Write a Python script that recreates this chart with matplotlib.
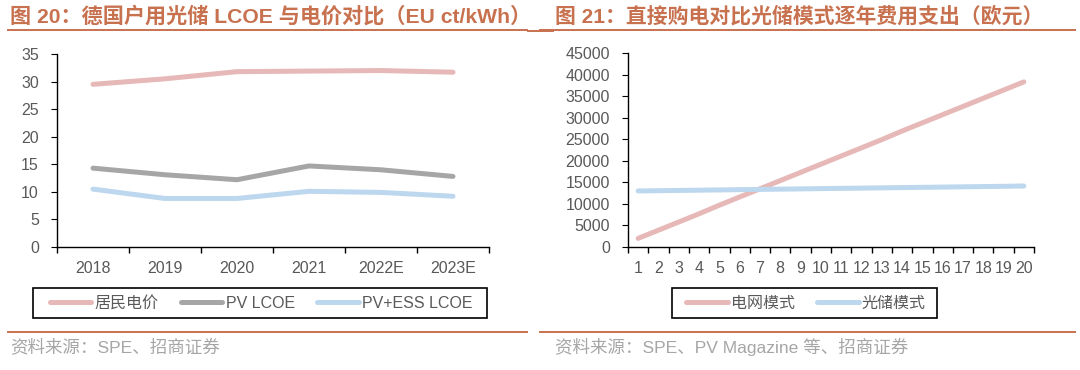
import numpy as np
import matplotlib.pyplot as plt
from matplotlib.lines import Line2D
from matplotlib.patches import Rectangle

plt.rcParams['font.family'] = ['Liberation Sans', 'Noto Sans CJK SC']

# left chart data
years = ['2018', '2019', '2020', '2021', '2022E', '2023E']
resid_price = [29.5, 30.5, 31.8, 31.9, 32.0, 31.7]
pv_lcoe = [14.3, 13.1, 12.2, 14.7, 14.0, 12.8]
pv_ess_lcoe = [10.5, 8.8, 8.8, 10.1, 9.9, 9.2]

# right chart data
year_idx = list(range(1, 21))
grid_mode = [2000, 3900, 5800, 7700, 9700, 11600, 13500, 15400, 17300, 19200,
             21100, 23000, 24900, 26900, 28800, 30700, 32600, 34500, 36400, 38300]
pv_mode = [13000, 13060, 13120, 13180, 13240, 13300, 13360, 13420, 13480, 13540,
           13600, 13660, 13720, 13780, 13840, 13900, 13960, 14020, 14080, 14150]

pink = '#E6B8B7'
grey = '#A6A6A6'
blue = '#BDD7EE'
title_c = '#C8714F'
txt_c = '#595959'
lw = 3.6

W, H = 1080, 370
fig = plt.figure(figsize=(W / 100, H / 100), dpi=100)

def fx(px):
    return px / W

def fy(py):
    return 1 - py / H

def style_axes(ax):
    for s in ['top', 'right']:
        ax.spines[s].set_visible(False)
    for s in ['left', 'bottom']:
        ax.spines[s].set_color('black')
        ax.spines[s].set_linewidth(1.0)
    ax.tick_params(axis='y', colors='black', labelcolor=txt_c, labelsize=11.5,
                   length=4, direction='out', pad=9)
    ax.tick_params(axis='x', which='major', length=4.5, width=1.0, colors='black')
    ax.tick_params(axis='x', which='minor', length=0, pad=10, labelsize=11.5,
                   labelcolor=txt_c)
    ax.set_facecolor('none')

def legend_box(handles, x0, x1, y0, y1, cx):
    fig.add_artist(Rectangle((fx(x0), fy(y1)), fx(x1 - x0), fy(y0) - fy(y1),
                             fill=False, edgecolor='black', lw=1.2))
    leg = fig.legend(handles=handles, loc='center', bbox_to_anchor=(fx(cx), fy((y0 + y1) / 2)),
                     ncol=len(handles), frameon=False, fontsize=11.5, handlelength=2.6,
                     columnspacing=1.4, handletextpad=0.2, borderpad=0.2)
    for t in leg.get_texts():
        t.set_color(txt_c)
    return leg

# left chart
ax1 = fig.add_axes([fx(57), fy(247), fx(489 - 57), fy(54) - fy(247)])
x1 = np.arange(len(years))
ax1.plot(x1, resid_price, color=pink, lw=lw, solid_capstyle='round', label='居民电价')
ax1.plot(x1, pv_lcoe, color=grey, lw=lw, solid_capstyle='round', label='PV LCOE')
ax1.plot(x1, pv_ess_lcoe, color=blue, lw=lw, solid_capstyle='round', label='PV+ESS LCOE')
ax1.set_xlim(-0.5, len(years) - 0.5)
ax1.set_ylim(0, 35)
ax1.set_yticks(np.arange(0, 36, 5))
ax1.set_xticks(np.arange(-0.5, len(years), 1))
ax1.set_xticklabels([])
ax1.set_xticks(x1, minor=True)
ax1.set_xticklabels(years, minor=True)
style_axes(ax1)

legend_box(ax1.get_lines(), 33, 487, 288, 318, 261)

# right chart
ax2 = fig.add_axes([fx(628), fy(247), fx(1034 - 628), fy(53) - fy(247)])
ax2.plot(year_idx, grid_mode, color=pink, lw=lw, solid_capstyle='round', label='电网模式')
ax2.plot(year_idx, pv_mode, color=blue, lw=lw, solid_capstyle='round', label='光储模式')
ax2.set_xlim(0.5, 20.5)
ax2.set_ylim(0, 45000)
ax2.set_yticks(np.arange(0, 45001, 5000))
ax2.set_xticks(np.arange(0.5, 21, 1))
ax2.set_xticklabels([])
ax2.set_xticks(year_idx, minor=True)
ax2.set_xticklabels([str(v) for v in year_idx], minor=True)
style_axes(ax2)

legend_box(ax2.get_lines(), 672, 937, 288, 318, 806)

# titles and rules
fig.text(fx(10), fy(16), '图 20：德国户用光储 LCOE 与电价对比（EU ct/kWh）',
         color=title_c, fontsize=15.2, fontweight='bold', va='center', ha='left')
fig.text(fx(555), fy(16), '图 21：直接购电对比光储模式逐年费用支出（欧元）',
         color=title_c, fontsize=15, fontweight='bold', va='center', ha='left')

for x0, x1_, yy in [(8, 527, 29.5), (528, 553, 31), (540, 1075, 29.5),
                    (8, 527, 332), (540, 1075, 332)]:
    fig.add_artist(Line2D([fx(x0), fx(x1_)], [fy(yy), fy(yy)], color=title_c, lw=1.4))

fig.text(fx(10), fy(347), '资料来源：SPE、招商证券', color='#A6A6A6', fontsize=12.6,
         va='center', ha='left')
fig.text(fx(555), fy(347), '资料来源：SPE、PV Magazine 等、招商证券', color='#A6A6A6',
         fontsize=12.6, va='center', ha='left')

fig.savefig('out.png', dpi=100, facecolor='white')
